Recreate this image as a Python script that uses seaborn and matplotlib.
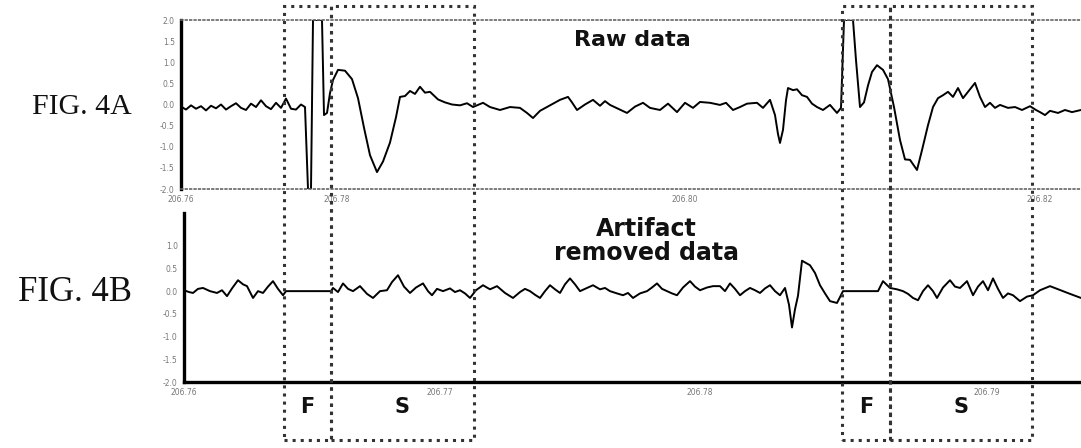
import numpy as np
import pandas as pd
import matplotlib.pyplot as plt
import seaborn as sns
from matplotlib.patches import Rectangle

#==========================================
###     DATA
#==========================================
# time in s from the start of the window, amplitude in arbitrary units

raw_t = [0.00, 0.05, 0.10, 0.15, 0.20, 0.25, 0.30, 0.35, 0.40, 0.45, 0.50, 0.55, 0.60,
         0.65, 0.70, 0.75, 0.80, 0.85, 0.90, 0.95, 1.00, 1.05, 1.10, 1.15, 1.20, 1.24,
         1.27, 1.30, 1.32, 1.41, 1.43, 1.46, 1.49, 1.52, 1.57, 1.64, 1.71, 1.77, 1.83,
         1.89, 1.96, 2.02, 2.09, 2.15, 2.19, 2.24, 2.29, 2.34, 2.39, 2.44, 2.49, 2.57,
         2.64, 2.71, 2.79, 2.86, 2.92, 3.02, 3.09, 3.19, 3.29, 3.39, 3.46, 3.52, 3.59,
         3.66, 3.72, 3.79, 3.87, 3.91, 3.96, 4.04, 4.12, 4.19, 4.24, 4.29, 4.37, 4.46,
         4.54, 4.62, 4.69, 4.79, 4.87, 4.96, 5.04, 5.12, 5.19, 5.29, 5.39, 5.45, 5.52,
         5.59, 5.66, 5.76, 5.82, 5.89, 5.94, 5.97, 5.99, 6.02, 6.05, 6.07, 6.12, 6.16,
         6.21, 6.26, 6.31, 6.36, 6.42, 6.49, 6.56, 6.60, 6.63, 6.72, 6.75, 6.79, 6.83,
         6.87, 6.91, 6.96, 7.02, 7.07, 7.13, 7.19, 7.24, 7.29, 7.36, 7.41, 7.47, 7.52,
         7.57, 7.62, 7.67, 7.72, 7.77, 7.82, 7.87, 7.94, 7.99, 8.04, 8.09, 8.14, 8.19,
         8.27, 8.34, 8.41, 8.49, 8.55, 8.59, 8.64, 8.69, 8.77, 8.84, 8.91, 9.00]
raw_v = [-0.05, -0.12, -0.02, -0.10, -0.04, -0.14, -0.03, -0.09, 0.00, -0.12, -0.04, 0.03, -0.08,
         -0.13, 0.02, -0.06, 0.10, -0.04, -0.11, 0.04, -0.08, 0.14, -0.10, -0.12, 0.00, -0.06,
         -2.00, -2.00, 2.00, 2.00, -0.25, -0.20, 0.27, 0.58, 0.82, 0.80, 0.60, 0.15, -0.55,
         -1.20, -1.60, -1.35, -0.90, -0.30, 0.18, 0.20, 0.32, 0.25, 0.42, 0.28, 0.30, 0.12,
         0.05, 0.00, -0.02, 0.03, -0.06, 0.04, -0.06, -0.13, -0.06, -0.08, -0.20, -0.32, -0.15,
         -0.06, 0.02, 0.11, 0.18, 0.05, -0.13, 0.00, 0.11, -0.03, 0.08, -0.01, -0.10, -0.20,
         -0.05, 0.04, -0.08, -0.13, 0.02, -0.18, 0.04, -0.08, 0.06, 0.04, -0.01, 0.04, -0.13,
         -0.06, 0.02, 0.04, -0.08, 0.11, -0.25, -0.70, -0.91, -0.60, 0.10, 0.39, 0.34, 0.36,
         0.22, 0.18, 0.02, -0.06, -0.13, -0.01, -0.20, -0.08, 2.00, 2.00, 1.05, -0.06, 0.05,
         0.45, 0.77, 0.93, 0.82, 0.60, -0.06, -0.84, -1.30, -1.31, -1.55, -1.08, -0.49, -0.06,
         0.15, 0.22, 0.30, 0.18, 0.39, 0.15, 0.30, 0.51, 0.18, -0.06, 0.04, -0.08, -0.01,
         -0.08, -0.06, -0.13, -0.04, -0.13, -0.18, -0.25, -0.15, -0.20, -0.13, -0.18, -0.13]

clean_t = [0.03, 0.08, 0.12, 0.17, 0.22, 0.29, 0.36, 0.41, 0.46, 0.51, 0.57, 0.62, 0.66,
           0.72, 0.77, 0.82, 0.87, 0.92, 0.97, 1.02, 1.05, 1.50, 1.52, 1.57, 1.62, 1.67,
           1.72, 1.79, 1.86, 1.92, 1.99, 2.06, 2.11, 2.17, 2.23, 2.29, 2.35, 2.42, 2.47,
           2.51, 2.56, 2.62, 2.69, 2.74, 2.79, 2.84, 2.89, 2.95, 3.02, 3.09, 3.16, 3.24,
           3.32, 3.39, 3.44, 3.49, 3.54, 3.59, 3.64, 3.69, 3.74, 3.79, 3.84, 3.89, 3.94,
           3.99, 4.05, 4.12, 4.19, 4.24, 4.29, 4.36, 4.42, 4.47, 4.52, 4.59, 4.66, 4.71,
           4.76, 4.81, 4.86, 4.91, 4.96, 5.02, 5.09, 5.14, 5.19, 5.26, 5.32, 5.39, 5.44,
           5.49, 5.54, 5.59, 5.64, 5.69, 5.74, 5.79, 5.84, 5.89, 5.94, 5.99, 6.04, 6.08,
           6.11, 6.14, 6.17, 6.21, 6.25, 6.29, 6.34, 6.39, 6.44, 6.49, 6.56, 6.62, 6.97,
           7.02, 7.09, 7.16, 7.22, 7.27, 7.32, 7.37, 7.42, 7.47, 7.52, 7.56, 7.62, 7.69,
           7.74, 7.79, 7.86, 7.92, 7.97, 8.02, 8.07, 8.12, 8.17, 8.22, 8.27, 8.32, 8.39,
           8.46, 8.52, 8.59, 8.69, 8.76, 8.82, 8.89, 9.00]
clean_v = [0.02, -0.02, -0.04, 0.05, 0.07, 0.00, -0.04, 0.02, -0.11, 0.06, 0.24, 0.15, 0.11,
           -0.15, 0.00, -0.04, 0.10, 0.22, 0.05, -0.09, 0.00, 0.00, 0.07, -0.02, 0.17, 0.05,
           0.00, 0.11, -0.06, -0.15, 0.00, 0.02, 0.20, 0.35, 0.10, -0.04, 0.08, 0.17, 0.00,
           -0.09, 0.05, 0.00, 0.06, -0.02, 0.02, -0.05, -0.15, 0.02, 0.13, 0.04, 0.11, -0.04,
           -0.15, -0.02, 0.05, 0.00, -0.08, -0.15, 0.00, 0.13, 0.04, -0.04, 0.15, 0.28, 0.15,
           0.00, 0.06, 0.13, 0.04, 0.07, 0.00, -0.05, -0.09, -0.04, -0.15, -0.05, 0.00, 0.08,
           0.17, 0.05, 0.00, -0.05, -0.09, 0.08, 0.22, 0.10, 0.02, 0.08, 0.11, 0.11, 0.00,
           0.17, 0.05, -0.09, 0.00, 0.07, 0.02, -0.04, 0.06, 0.13, 0.00, -0.09, 0.07, -0.30,
           -0.80, -0.40, -0.10, 0.67, 0.62, 0.57, 0.40, 0.13, -0.05, -0.22, -0.26, 0.00, 0.00,
           0.22, 0.07, 0.04, 0.00, -0.06, -0.15, -0.20, 0.00, 0.13, 0.00, -0.15, 0.08, 0.24,
           0.10, 0.07, 0.22, -0.09, 0.10, 0.22, 0.02, 0.28, 0.05, -0.15, -0.05, -0.09, -0.22,
           -0.12, -0.09, 0.02, 0.11, 0.05, 0.00, -0.06, -0.15]

raw_yticks = [2.0, 1.5, 1.0, 0.5, 0.0, -0.5, -1.0, -1.5, -2.0]
clean_yticks = [1.0, 0.5, 0.0, -0.5, -1.0, -1.5, -2.0]
raw_xtick_pos = [0.00, 1.56, 5.04, 8.59]
raw_xtick_lab = ['206.76', '206.78', '206.80', '206.82']
clean_xtick_pos = [0.03, 2.59, 5.19, 8.06]
clean_xtick_lab = ['206.76', '206.77', '206.78', '206.79']

# (start, end) of the F and S windows, in s
windows = [('F', 1.03, 1.50), ('S', 1.50, 2.93), ('F', 6.61, 7.09), ('S', 7.09, 8.51)]

df_raw = pd.DataFrame({'t': raw_t, 'v': raw_v})
df_clean = pd.DataFrame({'t': clean_t, 'v': clean_v})

#==========================================
###     PLOT
#==========================================
sns.set_style('white')

W, H = 1081, 448
fig = plt.figure(figsize=(W / 100, H / 100), dpi=100)

ax_raw = fig.add_axes([181 / W, 1 - 189 / H, 900 / W, 169 / H])
ax_cln = fig.add_axes([184 / W, 1 - 382 / H, 897 / W, 169 / H])

sns.lineplot(data=df_raw, x='t', y='v', ax=ax_raw, color='black', lw=1.4,
             estimator=None, sort=False)
sns.lineplot(data=df_clean, x='t', y='v', ax=ax_cln, color='black', lw=1.4,
             estimator=None, sort=False)

ax_raw.set_xlim(0, 9.0)
ax_raw.set_ylim(-2.0, 2.0)
ax_cln.set_xlim(0.03, 9.0)
ax_cln.set_ylim(-2.0, 1.72)

for ax in (ax_raw, ax_cln):
    ax.set_xlabel('')
    ax.set_ylabel('')
    ax.spines['right'].set_visible(False)
    ax.spines['left'].set_linewidth(2.4)
    ax.spines['left'].set_color('black')
    ax.tick_params(axis='both', direction='out', length=2.5, width=0.8,
                   labelsize=5.5, labelcolor='#777777', color='#555555', pad=2)
    ax.set_facecolor('none')

# raw panel: dotted frame top and bottom
for side in ('top', 'bottom'):
    ax_raw.spines[side].set_linestyle(':')
    ax_raw.spines[side].set_color('#666666')
    ax_raw.spines[side].set_linewidth(1.2)

ax_cln.spines['top'].set_visible(False)
ax_cln.spines['bottom'].set_linewidth(2.4)
ax_cln.spines['bottom'].set_color('black')

ax_raw.set_yticks(raw_yticks)
ax_raw.set_yticklabels([f'{v:.1f}' for v in raw_yticks])
ax_raw.set_xticks(raw_xtick_pos)
ax_raw.set_xticklabels(raw_xtick_lab)
ax_cln.set_yticks(clean_yticks)
ax_cln.set_yticklabels([f'{v:.1f}' for v in clean_yticks])
ax_cln.set_xticks(clean_xtick_pos)
ax_cln.set_xticklabels(clean_xtick_lab)

# dotted F / S boxes spanning both panels
x0 = 181 / W
sx = 100 / W  # 1 s = 100 px
y_top, y_bot = 1 - 6 / H, 1 - 440 / H
for lab, a, b in windows:
    fig.add_artist(Rectangle((x0 + a * sx, y_bot), (b - a) * sx, y_top - y_bot,
                             transform=fig.transFigure, fill=False, ls=':',
                             lw=2.2, ec='#333333', zorder=5))
    fig.text(x0 + (a + b) / 2 * sx, 1 - 407 / H, lab, ha='center', va='center',
             fontsize=15, fontweight='bold', family='DejaVu Sans', color='#111111')

fig.text(632 / W, 1 - 40 / H, 'Raw data', ha='center', va='center',
         fontsize=16, fontweight='bold', family='DejaVu Sans', color='#111111')
fig.text(646 / W, 1 - 241 / H, 'Artifact\nremoved data', ha='center', va='center',
         fontsize=17, fontweight='bold', family='DejaVu Sans', color='#111111',
         linespacing=1.05)

fig.text(32 / W, 1 - 107 / H, 'FIG. 4A', ha='left', va='center',
         fontsize=21.5, family='Liberation Serif', color='#111111')
fig.text(18 / W, 1 - 292 / H, 'FIG. 4B', ha='left', va='center',
         fontsize=25, family='Liberation Serif', color='#111111')

fig.savefig('out.png', dpi=100)
